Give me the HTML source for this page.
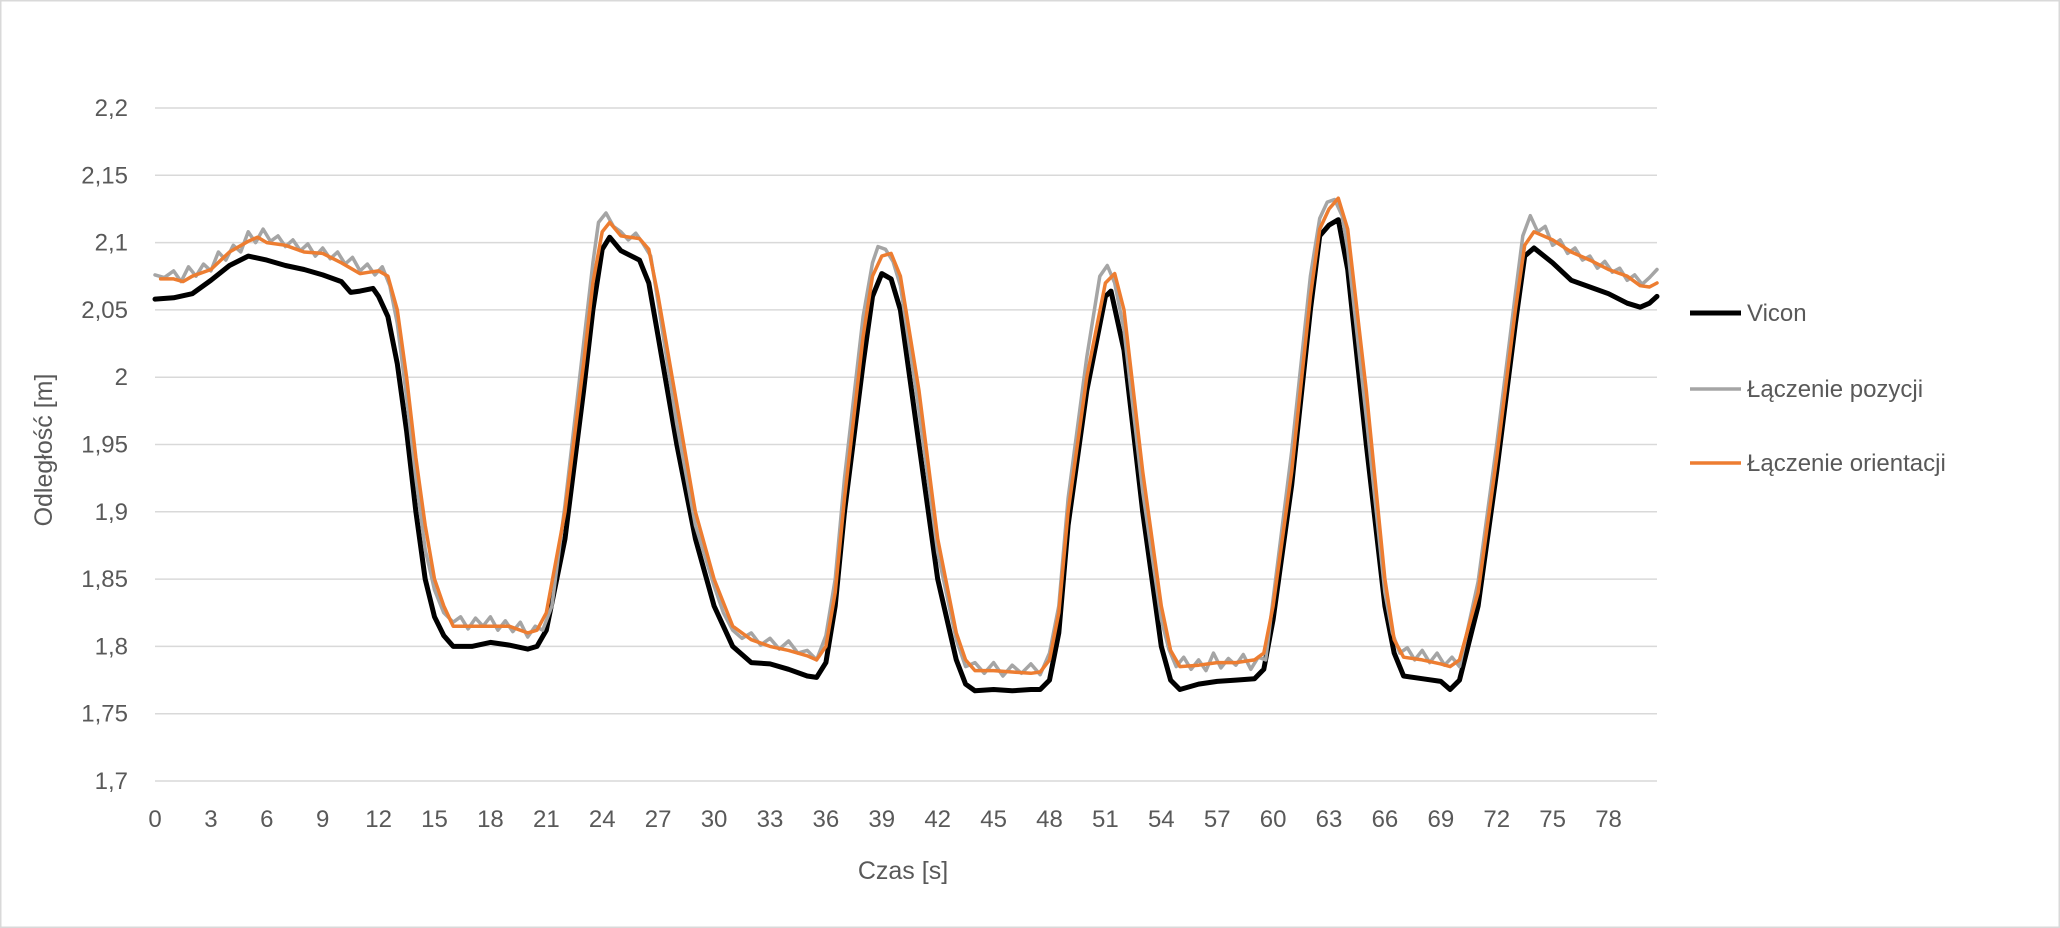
<!DOCTYPE html>
<html><head><meta charset="utf-8">
<style>
html,body{margin:0;padding:0;background:#fff;}
#wrap{position:relative;width:2060px;height:928px;overflow:hidden;}
svg text{font-family:"Liberation Sans","DejaVu Sans",sans-serif;fill:#595959;}
</style></head>
<body>
<div id="wrap">
<svg id="chart" width="2060" height="928" xmlns="http://www.w3.org/2000/svg"></svg>
</div>
<script>
const yTicks=[1.7,1.75,1.8,1.85,1.9,1.95,2,2.05,2.1,2.15,2.2];
const yTickLabels=["1,7","1,75","1,8","1,85","1,9","1,95","2","2,05","2,1","2,15","2,2"];
const xTicks=[0,3,6,9,12,15,18,21,24,27,30,33,36,39,42,45,48,51,54,57,60,63,66,69,72,75,78];
const viconT=[0,1,2,3,4,5,6,7,8,9,10,10.5,11,11.7,12,12.5,13,13.5,14,14.5,15,15.5,16,17,18,19,20,20.5,21,22,23,23.5,24,24.4,25,26,26.5,27,28,29,30,31,32,33,34,35,35.5,36,36.5,37,38,38.5,39,39.5,40,41,42,43,43.5,44,45,46,47,47.5,48,48.5,49,50,51,51.3,52,53,54,54.5,55,56,57,58,59,59.5,60,61,62,62.5,63,63.5,64,65,66,66.5,67,68,69,69.5,70,71,72,73,73.5,74,75,76,77,78,79,79.7,80.2,80.6];
const viconV=[2.058,2.059,2.062,2.072,2.083,2.090,2.087,2.083,2.080,2.076,2.071,2.063,2.064,2.066,2.060,2.045,2.010,1.960,1.900,1.850,1.822,1.808,1.800,1.800,1.803,1.801,1.798,1.800,1.812,1.880,1.990,2.050,2.095,2.104,2.094,2.087,2.070,2.030,1.950,1.880,1.830,1.800,1.788,1.787,1.783,1.778,1.777,1.788,1.830,1.900,2.010,2.060,2.077,2.073,2.050,1.950,1.850,1.790,1.772,1.767,1.768,1.767,1.768,1.768,1.775,1.810,1.890,1.990,2.060,2.064,2.020,1.900,1.800,1.775,1.768,1.772,1.774,1.775,1.776,1.783,1.820,1.920,2.050,2.105,2.113,2.117,2.080,1.950,1.830,1.795,1.778,1.776,1.774,1.768,1.775,1.830,1.930,2.040,2.090,2.096,2.085,2.072,2.067,2.062,2.055,2.052,2.055,2.060];
const orientT=[0.3,1,1.5,2,3,4,5,5.5,6,7,8,9,10,11,11.5,12,12.5,13,13.5,14,14.5,15,15.5,16,17,18,19,20,20.5,21,22,23,23.5,24,24.4,25,26,26.5,27,28,29,30,31,32,33,34,35,35.5,36,36.5,37,38,38.5,39,39.5,40,41,42,43,43.5,44,45,46,47,47.5,48,48.5,49,50,51,51.5,52,53,54,54.5,55,56,57,58,59,59.5,60,61,62,62.5,63,63.5,64,65,66,66.5,67,68,69,69.5,70,71,72,73,73.5,74,75,76,77,78,79,79.7,80.2,80.6];
const orientV=[2.073,2.073,2.071,2.075,2.080,2.093,2.101,2.104,2.100,2.098,2.093,2.092,2.085,2.077,2.078,2.079,2.075,2.050,2.000,1.940,1.890,1.850,1.830,1.815,1.815,1.815,1.815,1.810,1.812,1.825,1.900,2.010,2.070,2.108,2.115,2.105,2.103,2.095,2.060,1.980,1.900,1.850,1.815,1.805,1.800,1.797,1.793,1.790,1.800,1.840,1.910,2.030,2.075,2.090,2.092,2.075,1.990,1.880,1.810,1.790,1.782,1.782,1.781,1.780,1.781,1.790,1.825,1.900,2.000,2.070,2.077,2.050,1.930,1.830,1.797,1.785,1.786,1.788,1.788,1.790,1.795,1.830,1.930,2.060,2.110,2.125,2.133,2.110,1.990,1.850,1.805,1.792,1.790,1.787,1.785,1.790,1.840,1.940,2.050,2.098,2.108,2.102,2.093,2.087,2.080,2.075,2.068,2.067,2.070];
const posT=[0,0.5,1,1.4,1.8,2.2,2.6,3,3.4,3.8,4.2,4.6,5,5.4,5.8,6.2,6.6,7,7.4,7.8,8.2,8.6,9,9.4,9.8,10.2,10.6,11,11.4,11.8,12.2,12.6,13,13.5,14,14.5,15,15.5,16,16.4,16.8,17.2,17.6,18,18.4,18.8,19.2,19.6,20,20.4,20.8,21.3,22,23,23.5,23.8,24.2,24.6,25,25.4,25.8,26.2,26.6,27,28,29,30,30.5,31,31.5,32,32.5,33,33.5,34,34.5,35,35.5,36,36.5,37,38,38.5,38.8,39.2,39.6,40,41,42,43,43.5,44,44.5,45,45.5,46,46.5,47,47.5,48,48.5,49,50,50.7,51.1,51.5,52,53,54,54.4,54.8,55.2,55.6,56,56.4,56.8,57.2,57.6,58,58.4,58.8,59.2,59.6,60,61,62,62.5,62.9,63.3,63.7,64,65,66,66.4,66.8,67.2,67.6,68,68.4,68.8,69.2,69.6,70,71,72,73,73.4,73.8,74.2,74.6,75,75.4,75.8,76.2,76.6,77,77.4,77.8,78.2,78.6,79,79.4,79.8,80.2,80.6];
const posV=[2.076,2.074,2.079,2.071,2.082,2.075,2.084,2.079,2.093,2.087,2.098,2.093,2.108,2.100,2.110,2.101,2.105,2.097,2.102,2.094,2.099,2.090,2.096,2.088,2.093,2.084,2.089,2.079,2.084,2.076,2.082,2.068,2.040,1.985,1.925,1.872,1.842,1.825,1.818,1.822,1.813,1.821,1.815,1.822,1.812,1.819,1.811,1.818,1.807,1.815,1.812,1.830,1.905,2.025,2.085,2.115,2.122,2.112,2.108,2.102,2.107,2.099,2.090,2.055,1.965,1.890,1.845,1.825,1.812,1.806,1.810,1.801,1.806,1.798,1.804,1.795,1.797,1.790,1.808,1.850,1.925,2.045,2.085,2.097,2.095,2.086,2.068,1.975,1.870,1.805,1.785,1.788,1.780,1.788,1.778,1.786,1.780,1.787,1.779,1.795,1.830,1.910,2.015,2.075,2.083,2.070,2.035,1.915,1.820,1.798,1.785,1.792,1.783,1.790,1.782,1.795,1.784,1.791,1.786,1.794,1.783,1.792,1.790,1.835,1.945,2.075,2.118,2.130,2.132,2.120,2.095,1.970,1.840,1.810,1.795,1.799,1.790,1.797,1.788,1.795,1.786,1.792,1.785,1.848,1.950,2.062,2.105,2.120,2.108,2.112,2.098,2.102,2.092,2.096,2.087,2.090,2.081,2.086,2.078,2.081,2.072,2.076,2.069,2.074,2.080];

const svg=document.getElementById('chart');
const NS='http://www.w3.org/2000/svg';
const X0=155,X1=1657,Y0=781,Y1=108;
const xMin=0,xMax=80.6,yMin=1.7,yMax=2.2;
function xs(t){return X0+(t-xMin)/(xMax-xMin)*(X1-X0);}
function ys(v){return Y0-(v-yMin)/(yMax-yMin)*(Y0-Y1);}
function mk(tag,attrs,parent){const e=document.createElementNS(NS,tag);for(const k in attrs)e.setAttribute(k,attrs[k]);(parent||svg).appendChild(e);return e;}

const border=mk('rect',{x:0.5,y:0.5,width:2059,height:927,fill:'#fff',stroke:'#d9d9d9','stroke-width':2});



yTicks.forEach((v,i)=>{
  const g=mk('line',{x1:X0,x2:X1,y1:ys(v),y2:ys(v),stroke:'#d9d9d9','stroke-width':1.5});
  
  
  const t=mk('text',{x:128,y:ys(v)+8,'text-anchor':'end','font-size':24});
  t.textContent=yTickLabels[i];
  
  
});
xTicks.forEach(v=>{
  const t=mk('text',{x:xs(v),y:827,'text-anchor':'middle','font-size':24});
  t.textContent=String(v);
  
  
});
const yt=mk('text',{x:0,y:0,'text-anchor':'middle','font-size':25,transform:'translate(52,450) rotate(-90)'});
yt.textContent='Odległość [m]';


const xt=mk('text',{x:903,y:879,'text-anchor':'middle','font-size':25});
xt.textContent='Czas [s]';



function series(T,V,color,w,name){
  const n=Math.min(T.length,V.length);
  const pts=[];
  for(let i=0;i<n;i++)pts.push((i?'L':'M')+xs(T[i]).toFixed(1)+' '+ys(V[i]).toFixed(1));
  const p=mk('path',{d:pts.join(' '),fill:'none',stroke:color,'stroke-width':w,'stroke-linejoin':'round','stroke-linecap':'round'});
  
  
}
series(viconT,viconV,'#000000',5,'series-vicon');
series(posT,posV,'#a5a5a5',3.5,'series-laczenie-pozycji');
series(orientT,orientV,'#ed7d31',3.5,'series-laczenie-orientacji');

const legend=[['Vicon','#000000',313],['Łączenie pozycji','#a5a5a5',389],['Łączenie orientacji','#ed7d31',463]];
legend.forEach(l=>{
  const g=mk('g',{});
  
  
  mk('line',{x1:1690,x2:1741,y1:l[2],y2:l[2],stroke:l[1],'stroke-width':l[1]=='#000000'?5:3.5},g);
  const t=mk('text',{x:1747,y:l[2]+8,'font-size':24},g);
  t.textContent=l[0];
});
</script>
</body></html>
